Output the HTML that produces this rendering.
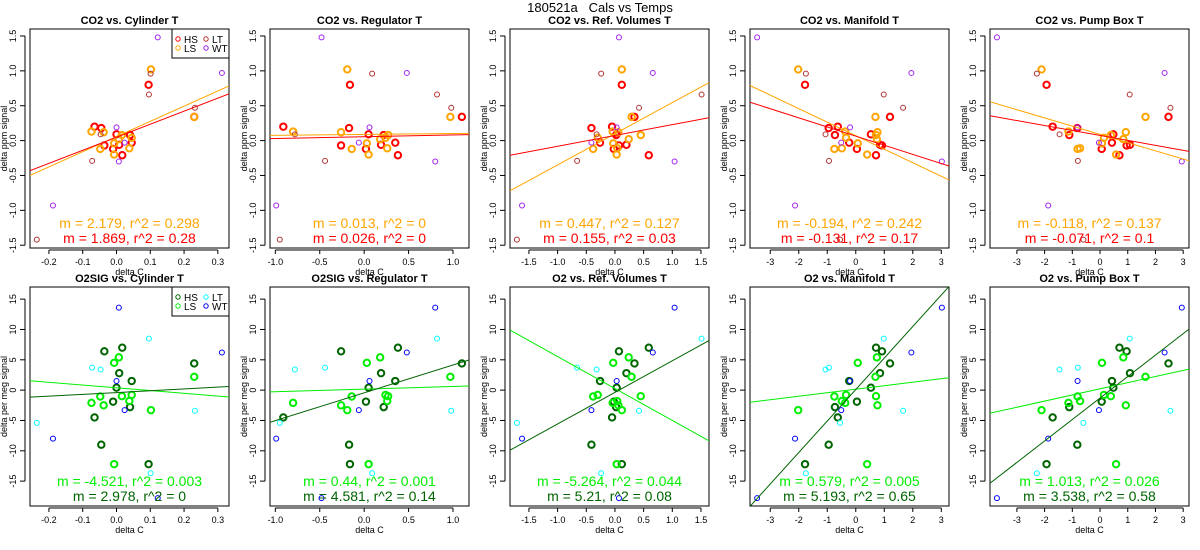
<!DOCTYPE html>
<html><head><meta charset="utf-8"><style>
body{margin:0;background:#fff;}
svg{display:block;font-family:"Liberation Sans",sans-serif;}
</style></head><body>
<svg id="c" width="1200" height="550" viewBox="0 0 1200 550">
<text x="600" y="12" text-anchor="middle" font-size="13" style="white-space:pre" xml:space="preserve">180521a   Cals vs Temps</text>
</svg>
<script>
// observation order: HS x11, LS x11, LT x6, WT x6
const groups = ["HS","HS","HS","HS","HS","HS","HS","HS","HS","HS","HS","LS","LS","LS","LS","LS","LS","LS","LS","LS","LS","LS","LT","LT","LT","LT","LT","LT","WT","WT","WT","WT","WT","WT"];
const co2 = [0.20,0.18,-0.07,0.09,-0.12,-0.06,-0.21,0.08,-0.03,0.80,0.34, 0.13,-0.12,0.12,-0.04,-0.20,0.02,0.08,-0.11,0.04,1.02,0.34, -1.42,-0.29,0.09,0.66,0.96,0.47, -0.93,0.19,-0.03,-0.30,1.48,0.97];
const o2 = [-4.5,-9.0,6.4,0.4,-1.9,2.8,7.0,-2.8,1.5,-12.2,4.4, -2.1,-1.05,-2.5,4.5,-12.2,5.4,-1.0,-1.8,-0.8,-3.3,2.2, -5.4,3.7,3.4,8.5,-13.7,-3.4, -8.0,1.5,-3.3,13.6,-17.8,6.2];
const cylT = [-0.065,-0.045,-0.036,0.0,-0.01,0.008,0.017,0.04,0.045,0.095,0.23, -0.074,-0.048,-0.038,-0.007,-0.007,0.007,0.016,0.038,0.045,0.102,0.23, -0.236,-0.072,-0.047,0.096,0.101,0.232, -0.188,0.0,0.024,0.007,0.122,0.312];
const regT = [-0.91,-0.17,-0.26,0.05,0.02,0.19,0.38,0.22,0.35,-0.16,1.10, -0.80,-0.14,-0.26,0.03,0.05,0.18,0.27,0.26,0.24,-0.19,0.97, -0.95,-0.44,-0.78,0.82,0.09,0.98, -0.99,0.06,-0.06,0.80,-0.48,0.48];
const refT = [-0.05,-0.41,0.07,0.03,-0.02,0.20,0.59,0.02,-0.26,0.12,0.34, -0.04,-0.38,0.06,-0.03,0.03,0.24,0.45,0.04,-0.30,0.12,0.29, -1.71,-0.66,-0.32,1.51,-0.24,0.42, -1.62,0.03,-0.41,1.04,0.07,0.66];
const manT = [-0.63,-0.95,0.92,0.53,0.04,0.85,0.71,-0.73,-0.23,-1.78,1.20, -0.37,-0.75,0.76,0.07,0.40,0.74,0.71,-0.49,-0.34,-2.02,0.69, -0.55,-0.94,-1.06,0.98,-1.75,1.66, -2.13,-0.20,-0.51,3.02,-3.46,1.95];
const pumpT = [-1.71,-0.82,0.96,0.48,0.06,1.08,0.70,-1.11,0.43,-1.93,2.47, -1.14,-0.81,0.93,0.07,0.58,0.84,0.39,-0.72,0.14,-2.11,1.64, -0.60,-0.80,-1.46,1.07,-2.28,2.54, -1.87,-0.81,-0.04,2.95,-3.72,2.33];
const tempNames = ["Cylinder T","Regulator T","Ref. Volumes T","Manifold T","Pump Box T"];
const xTicks = [[-0.2,-0.1,0.0,0.1,0.2,0.3],[-1.0,-0.5,0.0,0.5,1.0],[-1.5,-1.0,-0.5,0.0,0.5,1.0,1.5],[-3,-2,-1,0,1,2,3],[-3,-2,-1,0,1,2,3]];
const xTickLabels = [["-0.2","-0.1","0.0","0.1","0.2","0.3"],["-1.0","-0.5","0.0","0.5","1.0"],["-1.5","-1.0","-0.5","0.0","0.5","1.0","1.5"],["-3","-2","-1","0","1","2","3"],["-3","-2","-1","0","1","2","3"]];
const xDomains = [[-0.256,0.333],[-1.06,1.18],[-1.83,1.64],[-3.71,3.27],[-3.97,3.21]];
const co2Ticks = [-1.5,-1.0,-0.5,0.0,0.5,1.0,1.5];
const co2TickLabels = ["-1.5","-1.0","-0.5","0.0","0.5","1.0","1.5"];
const o2Ticks = [-15,-10,-5,0,5,10,15];
const o2TickLabels = ["-15","-10","-5","0","5","10","15"];
// regression slopes / intercepts (per panel)
const co2LsSlope = [2.179,0.013,0.447,-0.194,-0.118];
const co2LsIcpt = [0.058,0.088,0.098,0.07,0.089];
const co2HsSlope = [1.869,0.026,0.155,-0.131,-0.071];
const co2HsIcpt = [0.048,0.055,0.074,0.064,0.074];
const o2LsSlope = [-4.521,0.44,-5.264,0.579,1.013];
const o2LsIcpt = [0.38,0.17,0.27,0.15,0.22];
const o2HsSlope = [2.978,4.581,5.21,5.193,3.538];
const o2HsIcpt = [-0.40,-0.44,-0.37,0.1,-1.3];
const co2LsLabels = ["m = 2.179, r^2 = 0.298","m = 0.013, r^2 = 0","m = 0.447, r^2 = 0.127","m = -0.194, r^2 = 0.242","m = -0.118, r^2 = 0.137"];
const co2HsLabels = ["m = 1.869, r^2 = 0.28","m = 0.026, r^2 = 0","m = 0.155, r^2 = 0.03","m = -0.131, r^2 = 0.17","m = -0.071, r^2 = 0.1"];
const o2LsLabels = ["m = -4.521, r^2 = 0.003","m = 0.44, r^2 = 0.001","m = -5.264, r^2 = 0.044","m = 0.579, r^2 = 0.005","m = 1.013, r^2 = 0.026"];
const o2HsLabels = ["m = 2.978, r^2 = 0","m = 4.581, r^2 = 0.14","m = 5.21, r^2 = 0.08","m = 5.193, r^2 = 0.65","m = 3.538, r^2 = 0.58"];

const xs=[cylT,regT,refT,manT,pumpT];
const svg=document.getElementById('c');
const NS="http://www.w3.org/2000/svg";
function el(t,a,p){const e=document.createElementNS(NS,t);for(const k in a)e.setAttribute(k,a[k]);(p||svg).appendChild(e);return e;}

const rows=[
 {y:co2,top:29,bot:248,dom:[-1.54,1.6],ticks:co2Ticks,tl:co2TickLabels,yt:"delta ppm signal",title:"CO2 vs. ",
  col:{HS:"#ff0000",LS:"#ffa500",LT:"#b03030",WT:"#a020f0"},ls:co2LsLabels,hs:co2HsLabels,lsCol:"#ffa500",hsCol:"#ff0000",
  fits:{LS:[co2LsSlope,co2LsIcpt],HS:[co2HsSlope,co2HsIcpt]}},
 {y:o2,top:287,bot:506,dom:[-19.1,17.0],ticks:o2Ticks,tl:o2TickLabels,yt:"delta per meg signal",title:"O2 vs. ",
  col:{HS:"#006400",LS:"#00ee00",LT:"#00ffff",WT:"#0000ff"},ls:o2LsLabels,hs:o2HsLabels,lsCol:"#00ee00",hsCol:"#006400",
  fits:{LS:[o2LsSlope,o2LsIcpt],HS:[o2HsSlope,o2HsIcpt]}}
];
rows.forEach((R,ri)=>{
 for(let c=0;c<5;c++){
  const L=30+240*c,Rr=229+240*c,T=R.top,B=R.bot;
  const d=xDomains[c];
  const sx=v=>L+(v-d[0])/(d[1]-d[0])*(Rr-L);
  const sy=v=>B-(v-R.dom[0])/(R.dom[1]-R.dom[0])*(B-T);
  const g=el('g',{});
  
  
  const cid='clip'+ri+c;
  const cp=el('clipPath',{id:cid},g);el('rect',{x:L,y:T,width:Rr-L,height:B-T},cp);
  let ttl=R.title+tempNames[c];
  if(ri===1&&c<2)ttl="O2SIG vs. "+tempNames[c];
  const tt=el('text',{x:(L+Rr)/2,y:T-5,'text-anchor':'middle','font-size':11,'font-weight':'bold'},g);tt.textContent=ttl;
  
  
  const ya=el('g',{},g);
  
  
  el('line',{x1:L-5,x2:L-5,y1:sy(R.ticks[0]),y2:sy(R.ticks[R.ticks.length-1]),stroke:'#000'},ya);
  R.ticks.forEach((v,i)=>{const y=sy(v);el('line',{x1:L-10,x2:L-5,y1:y,y2:y,stroke:'#000'},ya);
   const t=el('text',{x:L-14,y:y,'text-anchor':'middle','font-size':9,transform:`rotate(-90 ${L-14} ${y})`},ya);t.textContent=R.tl[i];});
  const yt=el('text',{x:L-23,y:(T+B)/2,'text-anchor':'middle','font-size':9,transform:`rotate(-90 ${L-23} ${(T+B)/2})`},g);yt.textContent=R.yt;
  
  
  const xa=el('g',{},g);
  
  
  const xt=xTicks[c];
  el('line',{x1:sx(xt[0]),x2:sx(xt[xt.length-1]),y1:B+2,y2:B+2,stroke:'#000'},xa);
  xt.forEach((v,i)=>{const x=sx(v);el('line',{x1:x,x2:x,y1:B+2,y2:B+6,stroke:'#000'},xa);
   const t=el('text',{x:x,y:B+17,'text-anchor':'middle','font-size':9},xa);t.textContent=xTickLabels[c][i];});
  const xl=el('text',{x:(L+Rr)/2,y:B+27,'text-anchor':'middle','font-size':9},g);xl.textContent="delta C";
  
  
  el('rect',{x:L,y:T,width:Rr-L,height:B-T,fill:'none',stroke:'#000'},g);
  const X=xs[c];
  for(let i=0;i<X.length;i++){
   const gr=groups[i];const thick=(gr==="HS"||gr==="LS");
   const p=el('circle',{cx:sx(X[i]),cy:sy(R.y[i]),r:thick?3.2:2.5,fill:'none',stroke:R.col[gr],'stroke-width':thick?2:1},g);
   
   
  }
  ["LS","HS"].forEach(gr=>{
   const b=R.fits[gr][0][c],a=R.fits[gr][1][c];
   const ln=el('line',{x1:L,x2:Rr,y1:sy(a+b*d[0]),y2:sy(a+b*d[1]),stroke:R.col[gr],'stroke-width':1,'clip-path':`url(#${cid})`},g);
   
   
  });
  const a1=el('text',{x:(L+Rr)/2,y:B-20,'text-anchor':'middle','font-size':14,fill:R.lsCol},g);a1.textContent=R.ls[c];
  
  
  const a2=el('text',{x:(L+Rr)/2,y:B-5,'text-anchor':'middle','font-size':14,fill:R.hsCol},g);a2.textContent=R.hs[c];
  
  
  if(c===0){
   const lg=el('g',{},g);
   
   
   el('rect',{x:172,y:T,width:57,height:29,fill:'#fff',stroke:'#000'},lg);
   [["HS",178,T+10],["LT",206,T+10],["LS",178,T+19],["WT",206,T+19]].forEach(e=>{
    const le=el('g',{},lg);
    
    
    el('circle',{cx:e[1],cy:e[2],r:2.2,fill:'none',stroke:R.col[e[0]],'stroke-width':1},le);
    const t=el('text',{x:e[1]+6,y:e[2]+4,'font-size':10},le);t.textContent=e[0];
   });
  }
 }
});
</script>
</body></html>
